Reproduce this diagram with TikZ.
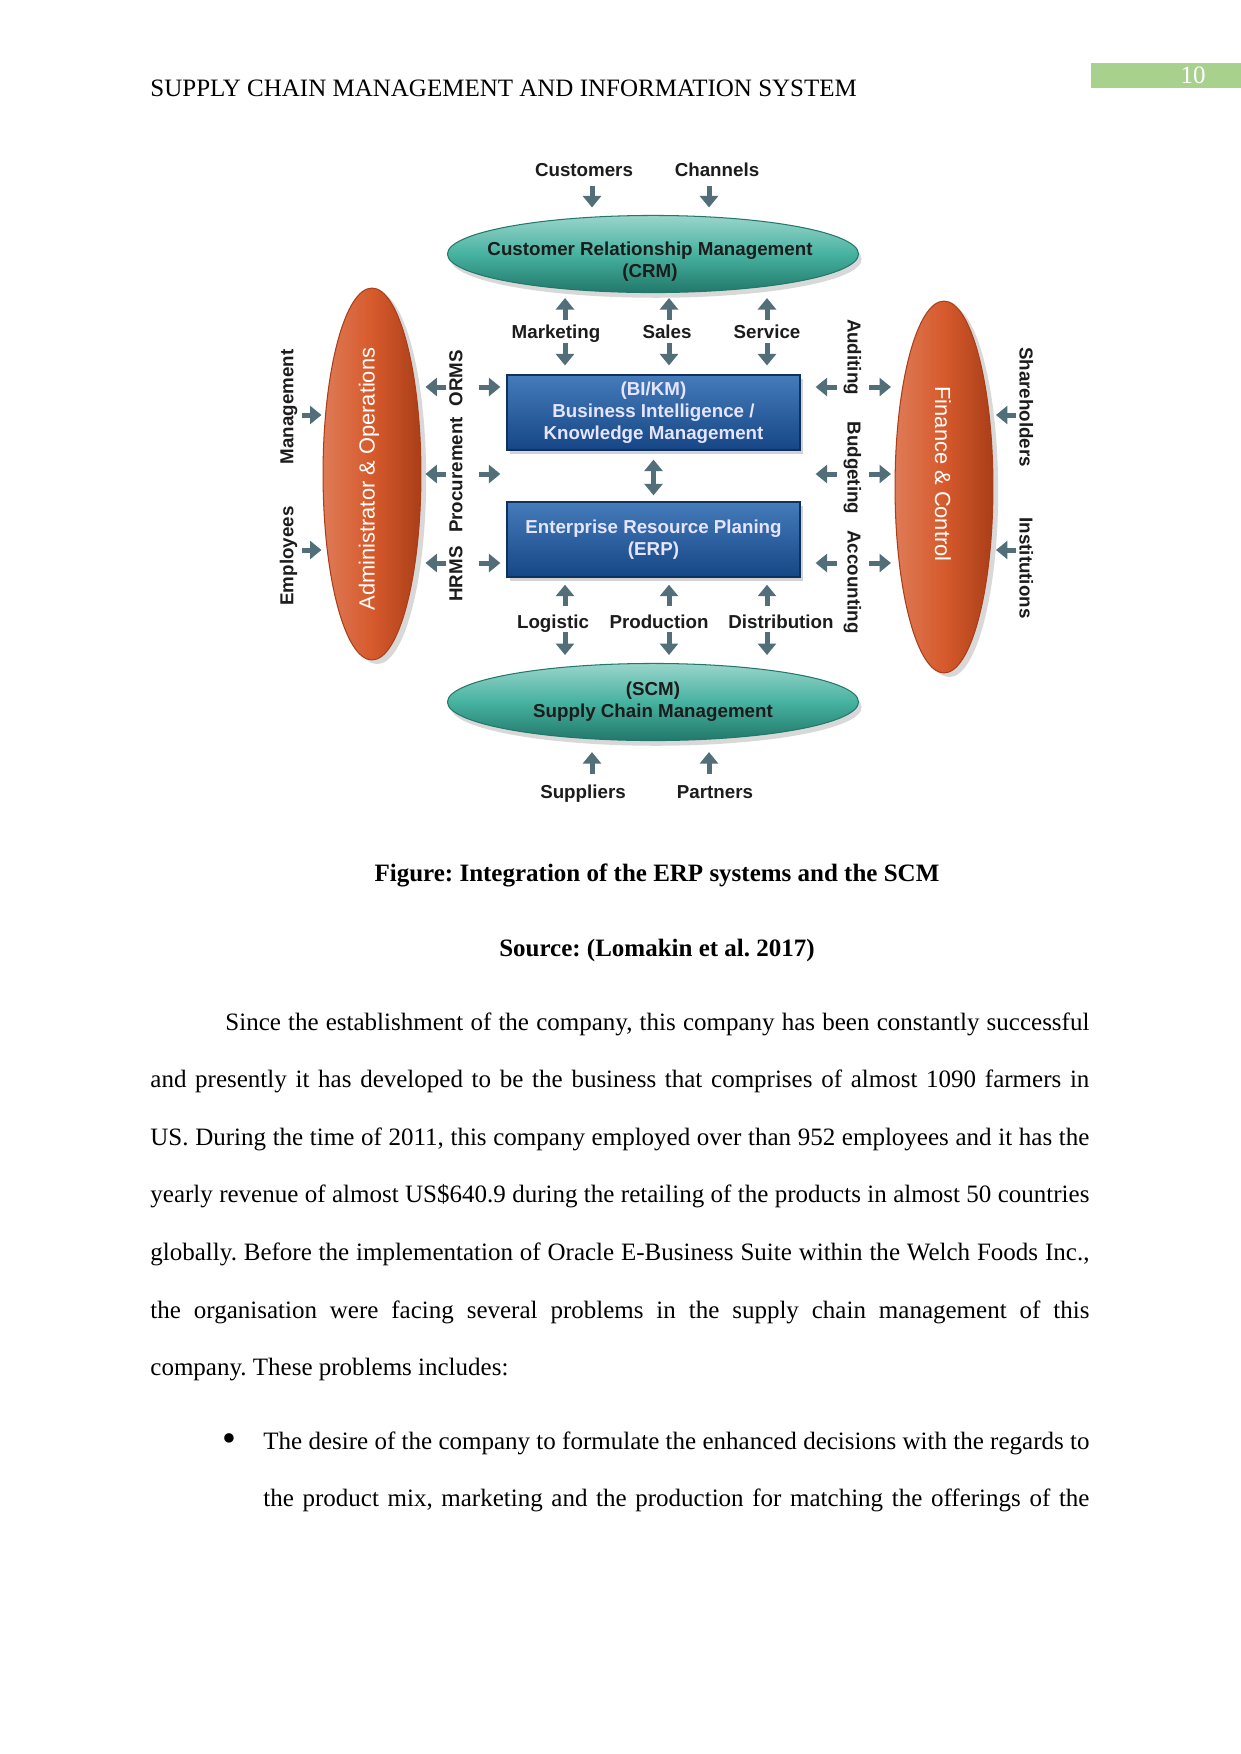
\documentclass[tikz,border=0pt]{standalone}
\usepackage{fontspec}
\setmainfont{Liberation Serif}
\newfontfamily\diafont{Liberation Sans}
\usetikzlibrary{shapes.geometric,arrows.meta,positioning,shadows}
\definecolor{scmteal}{RGB}{70,178,160}
\definecolor{scmtealdk}{RGB}{34,120,106}
\definecolor{scmorange}{RGB}{214,90,44}
\definecolor{scmorangedk}{RGB}{170,62,24}
\definecolor{scmblue}{RGB}{36,100,174}
\definecolor{scmbluedk}{RGB}{22,70,134}
\definecolor{scmarrow}{RGB}{82,110,120}
\definecolor{scmgreen}{RGB}{169,209,142}
\definecolor{scmtext}{RGB}{28,28,28}
\frenchspacing

\begin{document}
\begin{tikzpicture}[x=0.48pt,y=-0.48pt,
    lbl/.style={font=\diafont\bfseries\fontsize{9}{10.5}\selectfont,text=scmtext,inner sep=0pt,
                text height=9pt,text depth=1.9pt},
    oval/.style={ellipse,inner sep=0pt,draw=scmtealdk,line width=0.5pt,
                top color=scmteal!55!white,bottom color=scmtealdk,middle color=scmteal,
                minimum width=197.3pt,minimum height=37pt,align=center,
                font=\diafont\bfseries\fontsize{9}{10.5}\selectfont,text=scmtext,
                drop shadow={shadow xshift=1.5pt,shadow yshift=-2.5pt,opacity=0.3}},
    pillar/.style={ellipse,inner sep=0pt,draw=scmorangedk,line width=0.5pt,
                left color=scmorange!80!white,right color=scmorangedk,middle color=scmorange,
                minimum width=47pt,minimum height=178.5pt,
                drop shadow={shadow xshift=2.5pt,shadow yshift=-2pt,opacity=0.3}},
    pillartxt/.style={font=\diafont\fontsize{10.5}{12}\selectfont,text=white,inner sep=0pt},
    box/.style={draw=scmbluedk!70!black,line width=0.6pt,
                top color=scmblue!85!white,bottom color=scmbluedk,
                minimum width=140.6pt,minimum height=36pt,align=center,inner sep=0pt,
                font=\diafont\bfseries\fontsize{9}{10.5}\selectfont,text=white!90!blue,
                drop shadow={shadow xshift=1.5pt,shadow yshift=-2pt,opacity=0.35}},
    arr/.style={-{Triangle[width=8.6pt,length=5.5pt]},line width=2.4pt,draw=scmarrow},
    dbl/.style={{Triangle[width=8.6pt,length=5.5pt]}-{Triangle[width=8.6pt,length=5.5pt]},
                line width=2.4pt,draw=scmarrow},
    ln/.style={anchor=base west,inner sep=0pt,font=\fontsize{12}{14}\selectfont}
  ]
    \useasboundingbox (0,0) rectangle (1241,1754);
    \fill[white] (0,0) rectangle (1241,1754);

    \node[ln] (head) at (150,96) {SUPPLY CHAIN MANAGEMENT AND INFORMATION SYSTEM};
    \node[fill=scmgreen,minimum width=72pt,minimum height=12pt,inner sep=0pt] (pgbox) at (1166,75.5) {};
    \node[anchor=base,inner sep=0pt,text=white,font=\fontsize{12}{14}\selectfont] (pgnum) at (1193,83) {10};

    \coordinate (t1) at (592,0);
    \coordinate (t2) at (709,0);
    \coordinate (k1) at (565,0);
    \coordinate (k2) at (669,0);
    \coordinate (k3) at (767,0);
    \coordinate (r1) at (0,387);
    \coordinate (r2) at (0,474);
    \coordinate (r3) at (0,563);
    \coordinate (ra) at (0,415);
    \coordinate (rb) at (0,550);

    \node[oval] (crm) at (653,254) {};
    \node[lbl,align=center,text height=,text depth=] (crmtxt) at (650,262) {Customer Relationship Management\\(CRM)};
    \node[oval] (scm) at (653,702) {(SCM)\\Supply Chain Management};
    \node[pillar] (adm) at (372,474) {};
    \node[pillartxt,rotate=90] (admtxt) at (369,479) {Administrator \& Operations};
    \node[pillar] (fin) at (944,487) {};
    \node[pillartxt,rotate=-90] (fintxt) at (943,474) {Finance \& Control};
    \node[box] (bi) at (653.5,412.5) {(BI/KM)\\Business Intelligence /\\Knowledge Management};
    \node[box] (erp) at (653.5,539.5) {Enterprise Resource Planing\\(ERP)};

    \node[lbl] (cust) at (584,169) {Customers};
    \node[lbl] (chan) at (717,169) {Channels};
    \node[lbl] (mkt) at (556,331) {Marketing};
    \node[lbl] (sales) at (667,331) {Sales};
    \node[lbl] (serv) at (767,331) {Service};
    \node[lbl] (logi) at (553,621) {Logistic};
    \node[lbl] (prod) at (659,621) {Production};
    \node[lbl] (dist) at (781,621) {Distribution};
    \node[lbl] (supp) at (583,791) {Suppliers};
    \node[lbl] (part) at (715,791) {Partners};
    \node[lbl,rotate=90] (mgmt) at (286,407) {Management};
    \node[lbl,rotate=90] (empl) at (286,556) {Employees};
    \node[lbl,rotate=90] (orms) at (455,378) {ORMS};
    \node[lbl,rotate=90] (proc) at (455,475) {Procurement};
    \node[lbl,rotate=90] (hrms) at (455,574) {HRMS};
    \node[lbl,rotate=-90] (aud) at (855,357) {Auditing};
    \node[lbl,rotate=-90] (budg) at (855,468) {Budgeting};
    \node[lbl,rotate=-90] (acc) at (855,582) {Accounting};
    \node[lbl,rotate=-90] (share) at (1027,407) {Shareholders};
    \node[lbl,rotate=-90] (inst) at (1027,568) {Institutions};

    \draw[arr,shorten <=8.2pt,shorten >=3.6pt] (t1|-cust) -- (t1|-crm.north);
    \draw[arr,shorten <=8.2pt,shorten >=3.6pt] (t2|-chan) -- (t2|-crm.north);
    \foreach \c/\l in {k1/mkt,k2/sales,k3/serv}{
      \draw[arr,shorten <=5.3pt,shorten >=2.4pt] (\c|-\l) -- (\c|-crm.south);
      \draw[arr,shorten <=5.8pt,shorten >=4.3pt] (\c|-\l) -- (\c|-bi.north);
    }
    \draw[dbl,shorten <=4.3pt,shorten >=2.9pt] (bi.south) -- (erp.north);
    \foreach \c/\l in {k1/logi,k2/prod,k3/dist}{
      \draw[arr,shorten <=7.2pt,shorten >=3.4pt] (\c|-\l) -- (\c|-erp.south);
      \draw[arr,shorten <=5.3pt,shorten >=3.8pt] (\c|-\l) -- (\c|-scm.north);
    }
    \draw[arr,shorten <=8.2pt,shorten >=5.3pt] (t1|-supp) -- (t1|-scm.south);
    \draw[arr,shorten <=8.2pt,shorten >=5.3pt] (t2|-part) -- (t2|-scm.south);

    \foreach \r/\l in {r1/orms,r2/proc,r3/hrms}{
      \draw[arr,shorten <=4.3pt,shorten >=1.9pt] (\l|-\r) -- (adm.east|-\r);
      \draw[arr,shorten <=11.5pt,shorten >=2.9pt] (\l|-\r) -- (bi.west|-\r);
    }
    \foreach \r/\l in {r1/aud,r2/budg,r3/acc}{
      \draw[arr,shorten <=8.7pt,shorten >=7.2pt] (\l|-\r) -- (bi.east|-\r);
      \draw[arr,shorten <=6.7pt,shorten >=1.7pt] (\l|-\r) -- (fin.west|-\r);
    }
    \draw[arr,shorten <=7.7pt,shorten >=0.5pt] (mgmt|-ra) -- (adm.west|-ra);
    \draw[arr,shorten <=7.7pt,shorten >=0.5pt] (empl|-rb) -- (adm.west|-rb);
    \draw[arr,shorten <=5.3pt,shorten >=1.2pt] (share|-ra) -- (fin.east|-ra);
    \draw[arr,shorten <=5.3pt,shorten >=1.2pt] (inst|-rb) -- (fin.east|-rb);

    \node[anchor=base,inner sep=0pt,font=\bfseries\fontsize{12}{14}\selectfont] (cap) at (657,881)
      {Figure: Integration of the ERP systems and the SCM};
    \node[anchor=base,inner sep=0pt,font=\bfseries\fontsize{12}{14}\selectfont] (src) at (657,956)
      {Source: (Lomakin et al. 2017)};

    \node[ln] (p1) at (225,1030) {\makebox[414.7pt][s]{Since the establishment of the company, this company has been constantly successful}};
    \node[ln] (p2) at (150,1087.6) {\makebox[450.7pt][s]{and presently it has developed to be the business that comprises of almost 1090 farmers in}};
    \node[ln] (p3) at (150,1145.2) {\makebox[450.7pt][s]{US. During the time of 2011, this company employed over than 952 employees and it has the}};
    \node[ln] (p4) at (150,1202.8) {\makebox[450.7pt][s]{yearly revenue of almost US\$640.9 during the retailing of the products in almost 50 countries}};
    \node[ln] (p5) at (150,1260.4) {\makebox[450.7pt][s]{globally. Before the implementation of Oracle E-Business Suite within the Welch Foods Inc.,}};
    \node[ln] (p6) at (150,1318) {\makebox[450.7pt][s]{the organisation were facing several problems in the supply chain management of this}};
    \node[ln] (p7) at (150,1375.6) {company. These problems includes:};
    \node[anchor=base,inner sep=0pt,font=\fontsize{19}{20}\selectfont] (bul) at (229,1451) {•};
    \node[ln] (b1) at (263,1449) {\makebox[396.5pt][s]{The desire of the company to formulate the enhanced decisions with the regards to}};
    \node[ln] (b2) at (263,1506.6) {\makebox[396.5pt][s]{the product mix, marketing and the production for matching the offerings of the}};
  \end{tikzpicture}
\end{document}
